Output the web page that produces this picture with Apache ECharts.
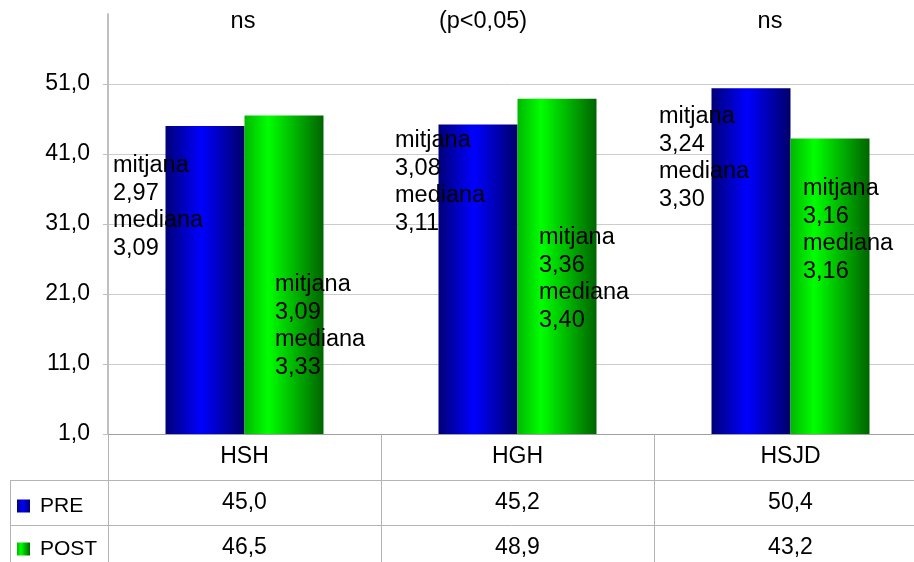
<!DOCTYPE html>
<html><head><meta charset="utf-8">
<script src="https://cdn.jsdelivr.net/npm/echarts@6/dist/echarts.min.js"></script>
<style>html,body{margin:0;padding:0;background:#fff}#c{width:914px;height:562px}</style>
</head><body><div id="c"></div>
<script>
// ---- data ----
const categories = ['HSH', 'HGH', 'HSJD'];
const seriesNames = ['PRE', 'POST'];
const preValues = [45.0, 45.2, 50.4];
const postValues = [46.5, 48.9, 43.2];
const significance = ['ns', '(p<0,05)', 'ns'];
const preMean = ['2,97', '3,08', '3,24'];
const preMedian = ['3,09', '3,11', '3,30'];
const postMean = ['3,09', '3,36', '3,16'];
const postMedian = ['3,33', '3,40', '3,16'];

// ---- layout / style ----
const FONT = '"Liberation Sans", Arial, sans-serif';
const fmt = v => v.toFixed(1).replace('.', ',');
const sigLayout = [[243, 22], [483, 22], [770, 22]];
const preLayout = [[113, 152], [395, 127], [659, 103]];
const postLayout = [[275, 271], [539, 224], [803, 175]];
const lineGray = '#b4b4b4';

const blueGrad = { type: 'linear', x: 0, y: 0, x2: 1, y2: 0, colorStops: [
  { offset: 0, color: '#000078' }, { offset: 0.45, color: '#0000ff' }, { offset: 1, color: '#00006a' }] };
const greenGrad = { type: 'linear', x: 0, y: 0, x2: 1, y2: 0, colorStops: [
  { offset: 0, color: '#00b800' }, { offset: 0.3, color: '#00ff00' }, { offset: 1, color: '#006400' }] };

const chart = echarts.init(document.getElementById('c'), null, { renderer: 'canvas' });

function tableAxis(offset, values) {
  return {
    type: 'category', data: categories, position: 'bottom', offset: offset, gridIndex: 0,
    axisLine: { show: true, lineStyle: { color: lineGray, width: 1 } },
    axisTick: { show: true, length: 45, lineStyle: { color: lineGray } },
    axisLabel: { interval: 0, margin: 0, lineHeight: 45, fontSize: 23, color: '#000', fontFamily: FONT,
      formatter: (v, i) => values ? fmt(values[i]) : v },
    splitLine: { show: false }
  };
}

const option = {
  animation: false,
  backgroundColor: '#fff',
  grid: { left: 108, right: -13, top: 14, bottom: 128, containLabel: false, outerBoundsMode: 'none' },
  legend: {
    data: seriesNames, orient: 'vertical', left: 17, top: 495, itemGap: 21, padding: 0,
    itemWidth: 13, itemHeight: 13, icon: 'rect',
    textStyle: { fontSize: 21, lineHeight: 22, color: '#000', fontFamily: FONT, padding: [0, 0, 0, 5] },
    selectedMode: false
  },
  xAxis: [
    Object.assign(tableAxis(0, null), { axisLine: { show: true, lineStyle: { color: '#a0a0a0', width: 1 } },
      axisTick: { show: true, length: 46, lineStyle: { color: lineGray } },
      axisLabel: { interval: 0, margin: 0, lineHeight: 46, fontSize: 23, color: '#000', fontFamily: FONT } }),
    tableAxis(46, preValues),
    tableAxis(91, postValues)
  ],
  yAxis: {
    type: 'value', min: 1, max: 61, interval: 10,
    axisLine: { show: true, lineStyle: { color: '#c0c0c0', width: 2 } },
    axisTick: { show: true, length: 5, lineStyle: { color: '#c0c0c0' } },
    axisLabel: { margin: 18, fontSize: 23, color: '#000', fontFamily: FONT, formatter: fmt, showMaxLabel: false },
    splitLine: { show: true, showMaxLine: false, lineStyle: { color: '#cccccc', width: 1 } }
  },
  series: [
    { name: seriesNames[0], type: 'bar', data: preValues, barWidth: 79, barGap: '0%',
      itemStyle: { color: blueGrad } },
    { name: seriesNames[1], type: 'bar', data: postValues, barWidth: 79, barGap: '0%',
      itemStyle: { color: greenGrad } }
  ]
};
chart.setOption(option);

const graphics = [];
categories.forEach((c, i) => {
  graphics.push({ type: 'text', x: sigLayout[i][0], y: sigLayout[i][1], z: 100,
    style: { text: significance[i], fontSize: 23.5, fontFamily: FONT, fill: '#000', align: 'center', verticalAlign: 'middle' } });
  graphics.push({ type: 'text', x: preLayout[i][0], y: preLayout[i][1], z: 100,
    style: { text: 'mitjana\n' + preMean[i] + '\nmediana\n' + preMedian[i], fontSize: 23.5, lineHeight: 27.5,
      fontFamily: FONT, fill: '#000', align: 'left', verticalAlign: 'top' } });
  graphics.push({ type: 'text', x: postLayout[i][0], y: postLayout[i][1], z: 100,
    style: { text: 'mitjana\n' + postMean[i] + '\nmediana\n' + postMedian[i], fontSize: 23.5, lineHeight: 27.5,
      fontFamily: FONT, fill: '#000', align: 'left', verticalAlign: 'top' } });
});
// left part of the data table (legend column borders)
graphics.push({ type: 'line', shape: { x1: 10, y1: 480.5, x2: 108, y2: 480.5 }, style: { stroke: lineGray, lineWidth: 1 } });
graphics.push({ type: 'line', shape: { x1: 10, y1: 525.5, x2: 108, y2: 525.5 }, style: { stroke: lineGray, lineWidth: 1 } });
graphics.push({ type: 'line', shape: { x1: 10.5, y1: 480, x2: 10.5, y2: 562 }, style: { stroke: lineGray, lineWidth: 1 } });
chart.setOption({ graphic: graphics });
</script>
</body></html>
